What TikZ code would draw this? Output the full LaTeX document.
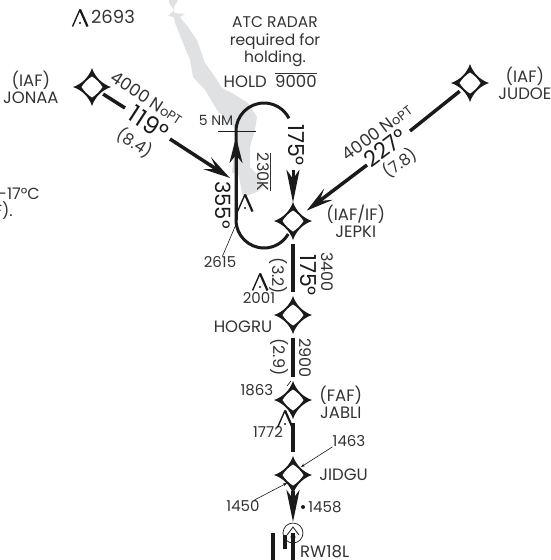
\documentclass[tikz,border=0pt]{standalone}
\usepackage{fontspec}
\setmainfont{Poppins}
\usetikzlibrary{arrows.meta, positioning}
\definecolor{inkline}{HTML}{1A1A1A}
\definecolor{inktext}{HTML}{333333}
\definecolor{terrain}{HTML}{DFE1E3}

\begin{document}
\begin{tikzpicture}[
x=1pt, y=-1pt,
fixnode/.style={circle, minimum size=46pt, inner sep=0pt, path picture={
	\fill[inkline, shift={(path picture bounding box.center)}] (0,-19) .. controls (3,-10) and (10,-3) .. (19,0) .. controls (10,3) and (3,10) .. (0,19) .. controls (-3,10) and (-10,3) .. (-19,0) .. controls (-10,-3) and (-3,-10) .. cycle;
	\fill[white, shift={(path picture bounding box.center)}] (0,-10.5) .. controls (4,-8) and (8,-4) .. (10.5,0) .. controls (8,4) and (4,8) .. (0,10.5) .. controls (-4,8) and (-8,4) .. (-10.5,0) .. controls (-8,-4) and (-4,-8) .. cycle;
}},
fixlabel/.style={text=inktext, font=\fontsize{16.5}{17}\selectfont, align=center, inner sep=0pt},
smalllabel/.style={text=inktext, font=\fontsize{15}{17}\selectfont, inner sep=0pt},
leglabel/.style={text=inktext, font=\fontsize{16}{18}\selectfont, inner sep=0pt},
courselabel/.style={text=inkline, font=\fontsize{22}{24}\selectfont, inner sep=0pt},
legline/.style={draw=inkline, line width=3.5pt},
legarrow/.style={legline, -{Stealth[length=27pt, width=14pt, inset=11pt]}},
holdline/.style={draw=inkline, line width=3pt},
leaderline/.style={draw=inkline, line width=0.6pt},
obstacle/.pic={
	\draw[inkline, line width=1.4pt] (-7.5,8.5) -- (0,-8.5);
	\draw[inkline, line width=2.2pt] (0,-8.5) -- (7.5,8.5);
	\fill[inkline] (0,5) circle (1.2pt);
},
]
\useasboundingbox (0,0) rectangle (551,560);
%Terrain
\fill[terrain] (178,0) -- (174,7) -- (174,13) -- (185,14) -- (180,17) -- (188,27) -- (197,40) -- (205,63) -- (215,77) -- (222,88) -- (232,93) -- (248,103) -- (257,117) -- (255,130) -- (250,147) -- (250,167) -- (260,177) -- (263,187) -- (257,192) -- (243,197) -- (238,173) -- (232,173) -- (235,143) -- (235,128) -- (217,110) -- (205,90) -- (193,77) -- (190,60) -- (183,43) -- (175,23) -- (174,17) -- (168,16) -- (174,10) -- (169,3) -- (169,0) -- cycle;

%Nodes
\node[fixnode] (JONAA) at (92,87) {};
\node[fixnode] (JUDOE) at (470,83) {};
\node[fixnode] (JEPKI) at (293,221) {};
\node[fixnode] (HOGRU) at (293,315) {};
\node[fixnode] (JABLI) at (293,400) {};
\node[fixnode] (JIDGU) at (293,475) {};
\node[circle, draw=inkline, line width=0.7pt, minimum size=20pt, inner sep=0pt] (RWcircle) at (293,533) {};

\node[fixlabel, left=10pt of JONAA] (JONAAlbl) {(IAF)\\JONAA};
\node[fixlabel, right=5pt of JUDOE] (JUDOElbl) {(IAF)\\JUDOE};
\node[fixlabel, right=10pt of JEPKI] (JEPKIlbl) {(IAF/IF)\\JEPKI};
\node[fixlabel] (HOGRUlbl) at (243,327) {HOGRU};
\node[fixlabel, right=3pt of JABLI, yshift=-2pt] (JABLIlbl) {(FAF)\\JABLI};
\node[fixlabel, right=3pt of JIDGU] (JIDGUlbl) {JIDGU};
\node[fixlabel, anchor=base west] (RWlbl) at (300,557) {RW18L};

\node[fixlabel, font=\fontsize{15.5}{17.5}\selectfont] (RADAR) at (275,42) {ATC RADAR\\required for\\holding.};
\node[fixlabel, anchor=base east] (HOLD) at (267,87) {HOLD};
\node[fixlabel, anchor=base west] (HOLDalt) at (275,87) {$\overline{\mbox{9000}}$};
\node[smalllabel, font=\fontsize{14}{16}\selectfont] (FiveNM) at (216,120) {5 NM};
\node[fixlabel, font=\fontsize{16}{18}\selectfont, rotate=-90] (Speed) at (264,172) {$\overline{\mbox{230K}}$};

\node[fixlabel, font=\fontsize{18}{20}\selectfont] (Elev2693) at (113,17) {2693};
\node[fixlabel, anchor=base east, font=\fontsize{16}{18}\selectfont] (TempA) at (40,199) {-17°C};
\node[fixlabel, anchor=base east, font=\fontsize{16}{18}\selectfont] (TempB) at (13,216) {F).};

\node[smalllabel] (Elev2615) at (220,262) {2615};
\node[smalllabel] (Elev2001) at (259,298) {2001};
\node[smalllabel] (Elev1863) at (257,390) {1863};
\node[smalllabel] (Elev1772) at (268,432) {1772};
\node[smalllabel] (Elev1463) at (349,441) {1463};
\node[smalllabel] (Elev1450) at (243,506) {1450};
\node[smalllabel] (Elev1458) at (325,507) {1458};
\node[circle, fill=inkline, minimum size=4pt, inner sep=0pt] (Spot1458) at (303,507) {};

\node[leglabel, font=\fontsize{17}{19}\selectfont, rotate=-33] (JONAAalt) at (147,98) {4000 N{\fontsize{13}{15}\selectfont oPT}};
\node[courselabel, font=\fontsize{24}{26}\selectfont, rotate=-33] (JONAAcrs) at (149,123) {1\kern1pt 1\kern1pt 9°};
\node[leglabel, rotate=-33] (JONAAdst) at (135,143) {(8.4)};
\node[leglabel, font=\fontsize{17}{19}\selectfont, rotate=37] (JUDOEalt) at (377,132) {4000 N{\fontsize{13}{15}\selectfont oPT}};
\node[courselabel, rotate=37] (JUDOEcrs) at (385,148) {227°};
\node[leglabel, rotate=37] (JUDOEdst) at (400,163) {(7.8)};

\node[courselabel, rotate=-90] (Hold175) at (296,145) {175°};
\node[courselabel, font=\fontsize{21}{23}\selectfont, rotate=-90] (Hold355) at (223,205) {355°};
\node[courselabel, rotate=-90] (JEPKIcrs) at (308,275) {175°};
\node[leglabel, rotate=-90] (JEPKIalt) at (327,272) {3400};
\node[leglabel, rotate=-90] (JEPKIdst) at (278,276) {(3.2)};
\node[leglabel, rotate=-90] (HOGRUalt) at (305,358) {2900};
\node[leglabel, rotate=-90] (HOGRUdst) at (279,357) {(2.9)};

%Free ends of the legs
\coordinate (JONAAa) at (125,108);
\coordinate (JONAAb) at (170,139);
\coordinate (JONAAc) at (230,178);
\coordinate (JUDOEa) at (410,131);
\coordinate (JUDOEb) at (367,165);
\coordinate (HoldTop) at (236,131);
\coordinate (HoldLow) at (236,220);
\coordinate (HoldTip) at (236,137);
\coordinate (HoldIn) at (293,170);
\coordinate (RWtip) at (293,522);
\coordinate (RWbottom) at (293,560);
\coordinate (CrossA) at (218,131);
\coordinate (CrossB) at (256,131);
\coordinate (Lead2615) at (237,222);
\coordinate (Tick1863a) at (291,381);
\coordinate (Tick1863b) at (287,386);
\coordinate (Lead1463) at (301,467);
\coordinate (Lead1450) at (287,483);

%Legs
\draw[legline, shorten <=-10pt] (JONAA) -- (JONAAa);
\draw[legarrow] (JONAAb) -- (JONAAc);
\draw[legline, shorten <=-10pt] (JUDOE) -- (JUDOEa);
\draw[legarrow, shorten >=-6pt] (JUDOEb) -- (JEPKI);
\draw[legline] (JEPKI) -- (HOGRU);
\draw[legline] (HOGRU) -- (JABLI);
\draw[legline] (JABLI) -- (JIDGU);
\draw[legarrow, -{Stealth[length=32pt, width=13pt, inset=9pt]}, shorten <=-7pt] (JIDGU) -- (RWtip);
\draw[legline] (RWcircle.center) -- (RWbottom);

%Holding
\draw[holdline] (HoldLow) -- (HoldTop) arc[start angle=180, end angle=27, radius=28pt];
\draw[holdline] (HoldLow) arc[start angle=180, end angle=330, radius=28pt];
\draw[legarrow, line width=3pt, -{Stealth[length=26pt, width=13pt, inset=8pt]}] (HoldLow) -- (HoldTip);
\draw[legarrow, line width=3pt, -{Stealth[length=33pt, width=13pt, inset=9pt]}, shorten >=-5pt] (HoldIn) -- (JEPKI);
\draw[leaderline, line width=0.9pt] (CrossA) -- (CrossB);

%Leaders
\draw[leaderline] (Elev2615) -- (Lead2615);
\draw[leaderline] (Tick1863a) -- (Tick1863b);
\draw[leaderline, -{Stealth[length=4pt, width=3pt]}] (Elev1463.south west) -- (Lead1463);
\draw[leaderline, -{Stealth[length=4pt, width=3pt]}] (Elev1450) -- (Lead1450);

%Runway
\draw[inkline, line width=4pt] (273,533) -- (273,560);
\draw[inkline, line width=3.5pt] (285,535) -- (285,549);
\draw[inkline, line width=0.8pt] (287,535) -- (293,527) -- (299,535);
\fill[inkline] (293,537) circle (2.5pt);

%Obstacles
\pic at (80,18) {obstacle};
\pic at (245,203) {obstacle};
\pic at (260,282) {obstacle};
\pic at (285,419) {obstacle};
\end{tikzpicture}
\end{document}
